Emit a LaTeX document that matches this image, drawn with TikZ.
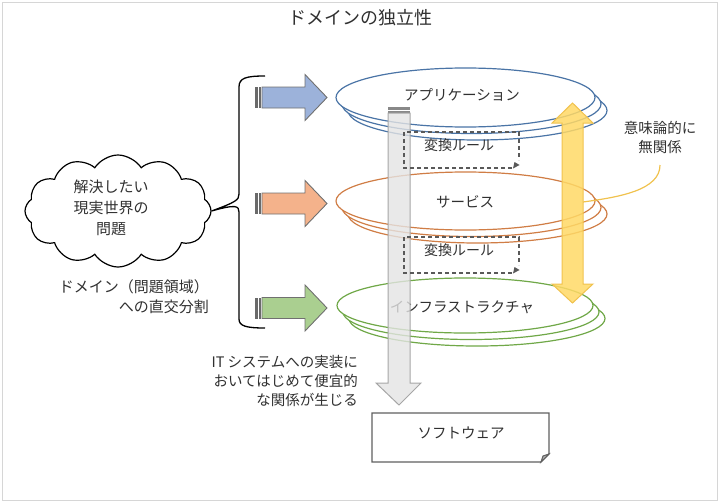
\documentclass[tikz,border=0pt]{standalone}
\usepackage{fontspec}
\setmainfont{Noto Sans CJK JP}
\usetikzlibrary{shapes.symbols}
\definecolor{framegray}{HTML}{D6D6D6}
\definecolor{txt}{HTML}{303030}
\definecolor{blueline}{HTML}{4A74A6}
\definecolor{orangeline}{HTML}{D07D45}
\definecolor{greenline}{HTML}{70A848}
\definecolor{bluefill}{HTML}{9CB2DA}
\definecolor{orangefill}{HTML}{F4B28B}
\definecolor{greenfill}{HTML}{AACF90}
\definecolor{arrowborder}{HTML}{707070}
\definecolor{stripe}{HTML}{6A6A6A}
\definecolor{grayfill}{HTML}{E4E4E4}
\definecolor{grayborder}{HTML}{A6A6A6}
\definecolor{yellowfill}{HTML}{FFD966}
\definecolor{yellowline}{HTML}{F0C24E}
\definecolor{dashgray}{HTML}{595959}
\definecolor{boxgray}{HTML}{606060}
\tikzset{
  lbl/.style={text=txt, font=\fontsize{14}{20}\selectfont, inner sep=0pt},
  layer/.style={line width=1.2pt, fill=white},
  blockarrow/.style={draw=arrowborder, line width=0.9pt},
  dbox/.style={draw=dashgray, line width=1.2pt, dash pattern=on 4pt off 3pt},
}
\begin{document}
\begin{tikzpicture}[x=1pt,y=-1pt]
\useasboundingbox (0,0) rectangle (720,503);
\draw[framegray, line width=1.5pt] (2.5,2.5) rectangle (717.5,500.5);

% title
\node[lbl, font=\fontsize{18}{22}\selectfont] (title) at (360,18) {ドメインの独立性};

% cloud
\node[cloud, cloud puffs=12, cloud puff arc=115, aspect=1.65, draw=black, line width=1.2pt,
      minimum width=186pt, minimum height=112pt, inner sep=0pt] (cloud) at (118,211) {};
\node[lbl, align=center, font=\fontsize{15}{21}\selectfont] (cloudtxt) at (111,208) {解決したい\\現実世界の\\問題};

% brace
\draw[black, line width=1.3pt] (265,76) .. controls (246,76) and (239,78) .. (239,87)
  -- (239,194) .. controls (239,200) and (236,202) .. (cloud.east)
  .. controls (236,204) and (239,206) .. (239,212)
  -- (239,319) .. controls (239,326) and (246,328) .. (265,328);

\node[lbl, align=right, anchor=east, font=\fontsize{15}{20}\selectfont] (domaintxt) at (209,297) {ドメイン（問題領域）\\への直交分割};

% striped block arrows
\foreach \yc/\fc [count=\i] in {97.5/bluefill, 203.5/orangefill, 308/greenfill}{
  \fill[stripe] (255,\yc-10.5) rectangle (257.5,\yc+10.5);
  \fill[stripe] (259,\yc-10.5) rectangle (261,\yc+10.5);
  \draw[blockarrow, fill=\fc] (262,\yc-10.5) -- (305,\yc-10.5) -- (305,\yc-23) -- (327,\yc)
     -- (305,\yc+23) -- (305,\yc+10.5) -- (262,\yc+10.5) -- cycle;
}

% layered ellipses
\foreach \cx/\cy/\rx/\ry/\col in {465.5/97.5/129.5/29.5/blueline, 465.5/201/129.5/29/orangeline, 465/305.5/128/27.5/greenline}{
  \draw[layer, draw=\col] (\cx+12,\cy+13) ellipse [x radius=\rx pt, y radius=\ry pt];
  \draw[layer, draw=\col] (\cx+6,\cy+6.5) ellipse [x radius=\rx pt, y radius=\ry pt];
  \draw[layer, draw=\col] (\cx,\cy) ellipse [x radius=\rx pt, y radius=\ry pt];
}
\node[lbl, font=\fontsize{14.5}{20}\selectfont] (app) at (462,95) {アプリケーション};
\node[lbl, font=\fontsize{14.5}{20}\selectfont] (svc) at (465,202) {サービス};
\node[lbl, font=\fontsize{14.5}{20}\selectfont] (infra) at (462,307) {インフラストラクチャ};

% gray down arrow
\fill[stripe!80] (388,107) rectangle (410,109.5);
\fill[stripe!80] (388,110.5) rectangle (410,112.5);
\draw[draw=grayborder, fill=grayfill, fill opacity=0.8, line width=1pt]
  (388,113) -- (410,113) -- (410,383) -- (421,383) -- (399,405) -- (376,383) -- (388,383) -- cycle;

% yellow double arrow
\draw[draw=yellowline, fill=yellowfill, fill opacity=0.85, line width=1pt]
  (572.5,103) -- (593,123) -- (583,123) -- (583,284) -- (593,284) -- (572.5,303)
  -- (552,284) -- (562,284) -- (562,123) -- (552,123) -- cycle;

% dashed conversion boxes
\foreach \yt/\nm in {132/r1, 237/r2}{
  \draw[dbox] (512,\yt+36) -- (404,\yt+36) -- (404,\yt) -- (519,\yt) -- (519,\yt+28);
  \fill[dashgray] (513,\yt+36.5) -- (514.5,\yt+30) -- (519.5,\yt+33) -- cycle;
  \node[lbl] (\nm) at (459,\yt+13) {変換ルール};
}

% callout
\node[lbl, align=center, font=\fontsize{14.5}{19}\selectfont] (unrel) at (660,137.5) {意味論的に\\無関係};
\coordinate (calltip) at (583,202);
\draw[yellowline, line width=1.2pt] (660,165) .. controls (660,190) and (620,197) .. (calltip);

% IT note
\node[lbl, align=right, anchor=east, font=\fontsize{14.5}{19}\selectfont] (itnote) at (358,381) {IT システムへの実装に\\おいてはじめて便宜的\\な関係が生じる};

% software document box
\draw[boxgray, line width=1.3pt, fill=white] (372,413) -- (549,413) -- (549,454) -- (541,462) -- (372,462) -- cycle;
\draw[boxgray, line width=1pt, fill=boxgray!50] (541,462) -- (543,456) -- (549,454) -- cycle;
\node[lbl, font=\fontsize{14.5}{20}\selectfont] (soft) at (461,433) {ソフトウェア};
\end{tikzpicture}
\end{document}
